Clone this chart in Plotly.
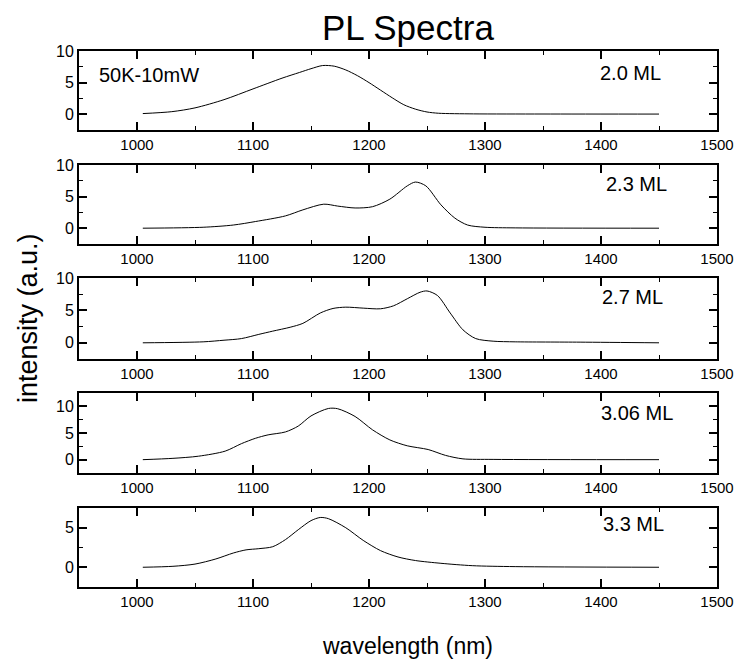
import plotly.graph_objects as go

# ---- data ----
labels = ["2.0 ML", "2.3 ML", "2.7 ML", "3.06 ML", "3.3 ML"]

wl_20 = [1005, 1030, 1050, 1075, 1100, 1125, 1140, 1150, 1160, 1170, 1180, 1190, 1200, 1210, 1220, 1230, 1240, 1250, 1260, 1290, 1350, 1450]
pl_20 = [0.1, 0.4, 1.0, 2.3, 4.0, 5.7, 6.6, 7.2, 7.7, 7.6, 7.0, 6.1, 5.0, 3.8, 2.6, 1.5, 0.8, 0.35, 0.15, 0.05, 0.03, 0.02]

wl_23 = [1005, 1057, 1083, 1102, 1128, 1143, 1161, 1173, 1188, 1203, 1218, 1233, 1240, 1249, 1262, 1274, 1285, 1300, 1326, 1450]
pl_23 = [0.0, 0.15, 0.5, 1.05, 1.95, 2.9, 3.8, 3.5, 3.2, 3.4, 4.6, 6.7, 7.3, 6.7, 3.7, 1.6, 0.5, 0.15, 0.05, 0.0]

wl_27 = [1005, 1057, 1075, 1090, 1105, 1117, 1132, 1143, 1158, 1169, 1180, 1195, 1210, 1221, 1233, 1244, 1250, 1259, 1270, 1281, 1292, 1307, 1326, 1382, 1450]
pl_27 = [0.0, 0.15, 0.4, 0.65, 1.3, 1.8, 2.4, 3.0, 4.6, 5.3, 5.5, 5.35, 5.25, 5.7, 6.8, 7.8, 8.0, 7.3, 4.6, 2.0, 0.65, 0.25, 0.15, 0.1, 0.0]

wl_306 = [1005, 1031, 1053, 1076, 1090, 1102, 1113, 1128, 1139, 1150, 1165, 1173, 1188, 1203, 1218, 1233, 1251, 1266, 1281, 1307, 1450]
pl_306 = [0.0, 0.25, 0.65, 1.6, 3.0, 4.0, 4.65, 5.2, 6.3, 8.2, 9.6, 9.55, 8.1, 5.6, 3.7, 2.6, 1.9, 0.8, 0.15, 0.05, 0.0]

wl_33 = [1005, 1031, 1050, 1068, 1083, 1094, 1105, 1117, 1128, 1139, 1150, 1158, 1165, 1180, 1195, 1210, 1225, 1240, 1262, 1289, 1326, 1450]
pl_33 = [0.0, 0.12, 0.4, 1.05, 1.8, 2.2, 2.35, 2.6, 3.5, 4.75, 5.9, 6.3, 6.15, 5.0, 3.4, 2.1, 1.3, 0.85, 0.5, 0.2, 0.08, 0.0]

wavelengths = [wl_20, wl_23, wl_27, wl_306, wl_33]
intensities = [pl_20, pl_23, pl_27, pl_306, pl_33]
y_ranges = [[-2.5, 10], [-2.5, 10], [-2.5, 10], [-2.5, 12.5], [-2.5, 7.5]]
x_range = [950, 1500]

# ---- layout geometry (pixels) ----
W, H = 736, 669
FONT = "Liberation Sans, Arial, sans-serif"
panel_px = [(51, 130), (165, 244), (278, 359), (393, 473), (508, 587)]
x_left, x_right = 79, 717


def px(x):
    return x / W


def py(y):
    return 1 - y / H


fig = go.Figure()
layout = dict(
    width=W, height=H,
    margin=dict(l=0, r=0, t=0, b=0),
    paper_bgcolor="white", plot_bgcolor="white",
    showlegend=False,
    font=dict(family=FONT, color="black"),
)

for i in range(5):
    n = "" if i == 0 else str(i + 1)
    fig.add_trace(go.Scatter(
        x=wavelengths[i], y=intensities[i], mode="lines",
        line=dict(color="black", width=1, shape="spline", smoothing=0.8),
        xaxis="x" + n, yaxis="y" + n, hoverinfo="skip",
    ))
    top, bot = panel_px[i]
    layout["xaxis" + n] = dict(
        domain=[px(x_left), px(x_right)], range=x_range, anchor="y" + n,
        tick0=1000, dtick=100, ticks="inside", ticklen=8, tickwidth=1.5,
        minor=dict(dtick=50, ticks="inside", ticklen=4, tickwidth=1.2, tickcolor="black"),
        showline=True, linewidth=2, linecolor="black", mirror="ticks",
        showgrid=False, zeroline=False, tickcolor="black", automargin=False,
        tickfont=dict(family=FONT, size=15, color="black"),
    )
    layout["yaxis" + n] = dict(
        domain=[py(bot), py(top)], range=y_ranges[i], anchor="x" + n,
        tick0=0, dtick=5, ticks="inside", ticklen=8, tickwidth=1.5,
        minor=dict(dtick=2.5, ticks="inside", ticklen=4, tickwidth=1.2, tickcolor="black"),
        showline=True, linewidth=2, linecolor="black", mirror="ticks",
        showgrid=False, zeroline=False, tickcolor="black", automargin=False,
        tickfont=dict(family=FONT, size=16, color="black"),
    )

annotations = []
label_pos = [(630, 73), (636, 184), (632, 297), (637, 413), (633, 524)]
for lab, (ax, ay) in zip(labels, label_pos):
    annotations.append(dict(text=lab, x=px(ax), y=py(ay), xref="paper", yref="paper",
                            showarrow=False, font=dict(family=FONT, size=20, color="black"),
                            xanchor="center", yanchor="middle"))
annotations.append(dict(text="50K-10mW", x=px(97), y=py(75), xref="paper", yref="paper",
                        showarrow=False, font=dict(family=FONT, size=20, color="black"),
                        xanchor="left", yanchor="middle"))
annotations.append(dict(text="PL Spectra", x=px(408), y=py(27), xref="paper", yref="paper",
                        showarrow=False, font=dict(family=FONT, size=35, color="black"),
                        xanchor="center", yanchor="middle"))
annotations.append(dict(text="wavelength (nm)", x=px(407), y=py(646), xref="paper", yref="paper",
                        showarrow=False, font=dict(family=FONT, size=23, color="black"),
                        xanchor="center", yanchor="middle"))
annotations.append(dict(text="intensity (a.u.)", x=px(28), y=py(318), xref="paper", yref="paper",
                        showarrow=False, textangle=-90, font=dict(family=FONT, size=27, color="black"),
                        xanchor="center", yanchor="middle"))
layout["annotations"] = annotations

fig.update_layout(**layout)
fig.write_html("out.html")
